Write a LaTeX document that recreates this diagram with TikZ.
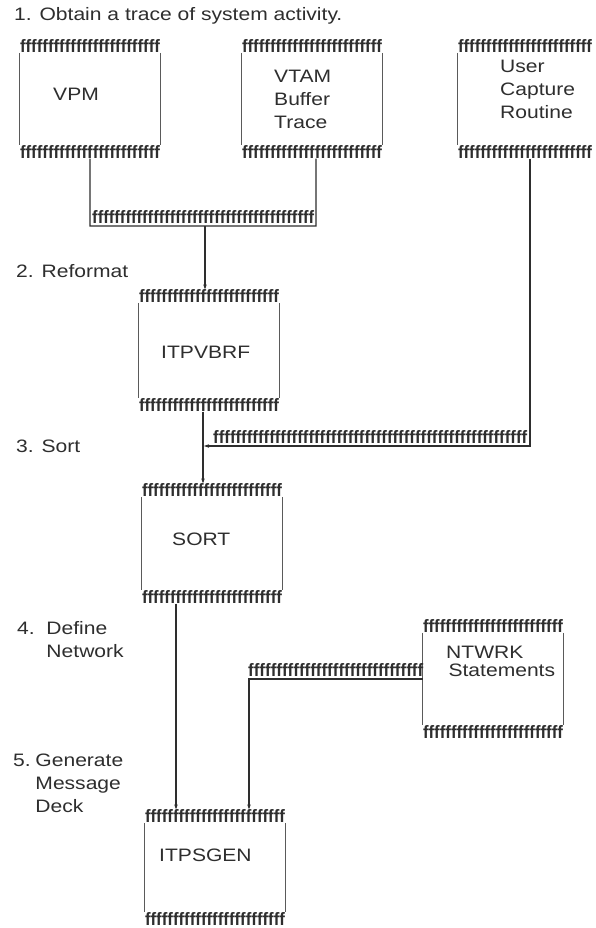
\documentclass[tikz,border=0pt]{standalone}
\usepackage{fontspec}
\setmainfont[Ligatures=CommonOff]{Liberation Sans}
\usetikzlibrary{arrows.meta}
\newcount\fcnt
\newcommand\fseq[1]{\fcnt=#1\relax\loop f\advance\fcnt by -1\relax\ifnum\fcnt>0 \repeat}
\newcommand\frowbox[2]{\resizebox{#1}{13pt}{\bfseries\fseq{#2}}}
\definecolor{ink}{HTML}{2E2E2E}
\definecolor{sidegray}{HTML}{5A5A5A}
\tikzset{
  txt/.style={font=\fontsize{18}{23}\selectfont, text=ink, inner sep=0pt, anchor=base west, align=left, xscale=1.17, transform shape},
  boxarea/.style={rectangle, inner sep=0pt, minimum width=140pt},
  frowt/.style={inner sep=0pt, text=ink, anchor=south west},
  frowb/.style={inner sep=0pt, text=ink, anchor=north west},
  side/.style={draw=sidegray, line width=1.1pt},
  conn/.style={draw=ink, line width=1.1pt},
  arr/.style={conn, -{Stealth[length=5pt,width=3.5pt]}},
}
\begin{document}
\begin{tikzpicture}[x=1pt,y=-1pt]
\useasboundingbox (0,0) rectangle (595,928);
\fill[white] (0,0) rectangle (595,928);

% step labels (base anchor = last line's baseline)
\node[txt] (s1) at (14,21) {1. Obtain a trace of system activity.};
\node[txt] (s2) at (16,277) {2. Reformat};
\node[txt] (s3) at (16,452) {3. Sort};
\node[txt] (s4) at (17,657) {\makebox[25pt][l]{4.}Define\\\hspace*{25pt}Network};
\node[txt] (s5) at (13,812) {\makebox[19pt][l]{5.}Generate\\\hspace*{19pt}Message\\\hspace*{19pt}Deck};

% boxes: area between the f rows
\node[boxarea, minimum height=92pt] (vpm) at (90,99) {};
\node[boxarea, minimum height=92pt] (vtam) at (312,99) {};
\node[boxarea, minimum height=95pt] (itpv) at (209,350.5) {};
\node[boxarea, minimum height=93pt] (sort) at (212,543.5) {};
\node[boxarea, minimum height=92pt] (ntwrk) at (493,679) {};
\node[boxarea, minimum height=89pt] (itps) at (215,867.5) {};

\foreach \b in {vpm,vtam,itpv,sort,ntwrk,itps}{
  \draw[side] (\b.north west) -- (\b.south west);
  \draw[side] (\b.north east) -- (\b.south east);
  \node[frowt] (\b top) at (\b.north west) {\frowbox{140pt}{25}};
  \node[frowb] (\b bot) at (\b.south west) {\frowbox{140pt}{25}};
}

% user box: its right side runs off the page edge
\node[boxarea, minimum width=134pt, minimum height=92pt] (user) at (525,99) {};
\draw[side] (user.north west) -- (user.south west);
\node[frowt] (usertop) at (user.north west) {\frowbox{134pt}{24}};
\node[frowb] (userbot) at (user.south west) {\frowbox{134pt}{24}};

% box texts
\node[txt] (tvpm) at (53,101) {VPM};
\node[txt] (tvtam) at (274,129) {VTAM\\Buffer\\Trace};
\node[txt] (tuser) at (500,119) {User\\Capture\\Routine};
\node[txt] (titpv) at (161,358) {ITPVBRF};
\node[txt] (tsort) at (172,545) {SORT};
\node[txt, font=\fontsize{18}{18}\selectfont] (tntwrk) at (446,676) {NTWRK\\\hspace*{2pt}Statements};
\node[txt] (titps) at (159,861) {ITPSGEN};

% connectors
\coordinate (j1) at (205,226);
\coordinate (m1) at (316,226);
\draw[conn] (vpmbot.south -| vpm.south) |- (m1) -- ([xshift=4pt]vtambot.south);
\node[frowt] (r1) at (92,224) {\frowbox{222pt}{40}};
\draw[arr] (j1) -- (j1 |- itpvtop.north);

\coordinate (j2) at (203,446);
\draw[arr] ([xshift=-6pt]itpvbot.south) -- ([xshift=-6pt]itpvbot.south |- sorttop.north);
\draw[arr] ([xshift=5pt]userbot.south) |- ([xshift=1pt]j2);
\node[frowt] (r2) at (213,444) {\frowbox{314pt}{56}};

\coordinate (j3) at (249,679);
\draw[arr] ([xshift=-36pt]sortbot.south) -- ([xshift=-36pt]sortbot.south |- itpstop.north);
\draw[arr] (ntwrk.west) -| (j3 |- itpstop.north);
\node[frowt] (r3) at (248,677) {\frowbox{175pt}{31}};
\end{tikzpicture}
\end{document}
